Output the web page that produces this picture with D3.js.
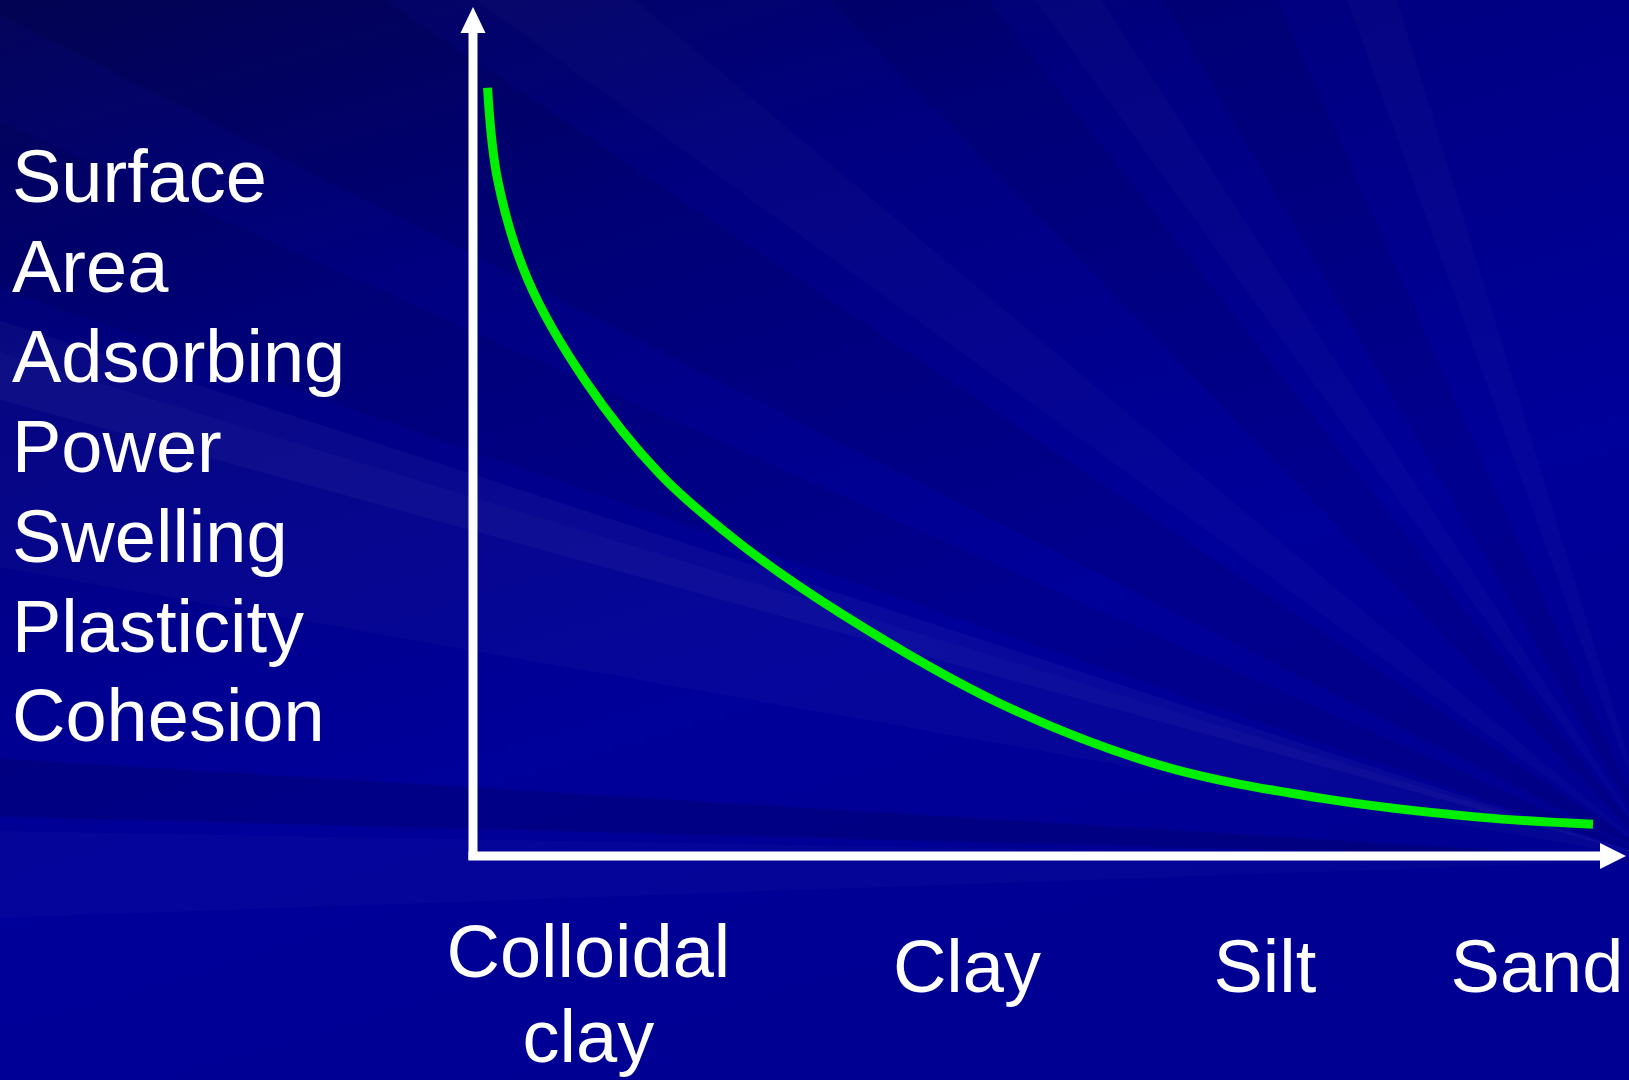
<!DOCTYPE html>
<html>
<head>
<meta charset="utf-8">
<script src="https://cdn.jsdelivr.net/npm/d3@7"></script>
<style>
  html, body { margin: 0; padding: 0; background: #00007a; overflow: hidden; }
  svg { display: block; }
  .label { fill: #ffffff; font-family: "Liberation Sans", Arial, sans-serif; font-size: 74px; }
</style>
</head>
<body>
<svg id="chart"></svg>
<script>
// Property labels on the left (one word per line)
const sideLabels = ["Surface", "Area", "Adsorbing", "Power", "Swelling", "Plasticity", "Cohesion"];

// Soil classes along the x axis, and where they sit on it (0-100 along the axis)
const categories = [["Colloidal", "clay"], ["Clay"], ["Silt"], ["Sand"]];
const categoryPos = [10.3, 44.1, 70.7, 95.0];

// The green curve (x: 0-100 along axis, y: 0-100 relative value)
const curveX = [1.3, 2.2, 4.9, 10.0, 16.7, 23.8, 32.8, 47.1, 61.3, 75.7, 90.0, 100];
const curveY = [99.9, 87.9, 74.9, 61.8, 49.6, 40.6, 31.5, 19.7, 11.7, 7.4, 4.9, 4.0];

const Width = 1629;
const Height = 1080;

let svg = d3.select("#chart")
  .attr("width", Width)
  .attr("height", Height);

let x = d3.scaleLinear().domain([0, 100]).range([473, 1593]);
let y = d3.scaleLinear().domain([0, 100]).range([855, 87]);

drawBackground();

// Axes with arrow heads
let axisColor = "#ffffff";
let x0 = x(0), y0 = y(0);

svg.append("line")
  .attr("x1", x0).attr("x2", x0)
  .attr("y1", y0 + 5).attr("y2", 30)
  .attr("stroke", axisColor).attr("stroke-width", 9);
svg.append("path")
  .attr("d", "M" + x0 + ",7 L" + (x0 + 12.5) + ",33 L" + (x0 - 12.5) + ",33 Z")
  .attr("fill", axisColor);

svg.append("line")
  .attr("x1", x0 - 4.5).attr("x2", 1603)
  .attr("y1", y0 + 1).attr("y2", y0 + 1)
  .attr("stroke", axisColor).attr("stroke-width", 9);
svg.append("path")
  .attr("d", "M1626," + (y0 + 1) + " L1600," + (y0 - 12) + " L1600," + (y0 + 14) + " Z")
  .attr("fill", axisColor);

// The curve
let curveData = curveX.map((d, i) => ({ x: d, y: curveY[i] }));
let line = d3.line()
  .curve(d3.curveCatmullRom.alpha(0.5))
  .x(d => x(d.x))
  .y(d => y(d.y));

svg.append("path")
  .datum(curveData)
  .attr("d", line)
  .attr("fill", "none")
  .attr("stroke", "#00f000")
  .attr("stroke-width", 9)
  .attr("stroke-linecap", "butt");

// Left labels
svg.append("g")
  .selectAll("text")
  .data(sideLabels)
  .join("text")
  .attr("class", "label")
  .attr("x", 12)
  .attr("y", (d, i) => 202 + i * 89.9)
  .text(d => d);

// Bottom labels
let cats = svg.append("g")
  .selectAll("g")
  .data(categories)
  .join("g")
  .attr("transform", (d, i) => "translate(" + x(categoryPos[i]) + ",0)");

cats.selectAll("text")
  .data(d => d.map((t, j) => ({ text: t, j: j, n: d.length })))
  .join("text")
  .attr("class", "label")
  .attr("text-anchor", "middle")
  .attr("y", d => 992 - (d.n - 1) * 15 + d.j * 85)
  .text(d => d.text);

function drawBackground() {
  let defs = svg.append("defs");
  let grad = defs.append("linearGradient")
    .attr("id", "bg")
    .attr("x1", 0).attr("y1", 0)
    .attr("x2", 0.45).attr("y2", 1);
  grad.append("stop").attr("offset", 0).attr("stop-color", "#04045a");
  grad.append("stop").attr("offset", 0.3).attr("stop-color", "#000080");
  grad.append("stop").attr("offset", 0.7).attr("stop-color", "#00009a");
  grad.append("stop").attr("offset", 1).attr("stop-color", "#000092");

  svg.append("rect")
    .attr("width", Width).attr("height", Height)
    .attr("fill", "url(#bg)");

  // Soft streaks fanning out from the lower right corner (kept faint)
  let fx = 1660, fy = 860, r = 2600;
  let streaks = [
    { a1: 178, a2: 181, c: "#ffffff", o: 0.02 },
    { a1: 181.5, a2: 183.5, c: "#000000", o: 0.12 },
    { a1: 190, a2: 197, c: "#ffffff", o: 0.025 },
    { a1: 199, a2: 204, c: "#000000", o: 0.07 },
    { a1: 195.5, a2: 198, c: "#ffffff", o: 0.035 },
    { a1: 207, a2: 214, c: "#000000", o: 0.08 },
    { a1: 216, a2: 220, c: "#ffffff", o: 0.02 },
    { a1: 226, a2: 232, c: "#000000", o: 0.07 },
    { a1: 234, a2: 237, c: "#ffffff", o: 0.02 },
    { a1: 240, a2: 246, c: "#000000", o: 0.07 },
    { a1: 250, a2: 253, c: "#ffffff", o: 0.02 }
  ];
  let rad = Math.PI / 180;
  svg.append("g")
    .selectAll("path")
    .data(streaks)
    .join("path")
    .attr("d", d => "M" + fx + "," + fy +
      " L" + (fx + r * Math.cos(d.a1 * rad)) + "," + (fy + r * Math.sin(d.a1 * rad)) +
      " L" + (fx + r * Math.cos(d.a2 * rad)) + "," + (fy + r * Math.sin(d.a2 * rad)) + " Z")
    .attr("fill", d => d.c)
    .attr("fill-opacity", d => d.o);
}
</script>
</body>
</html>
